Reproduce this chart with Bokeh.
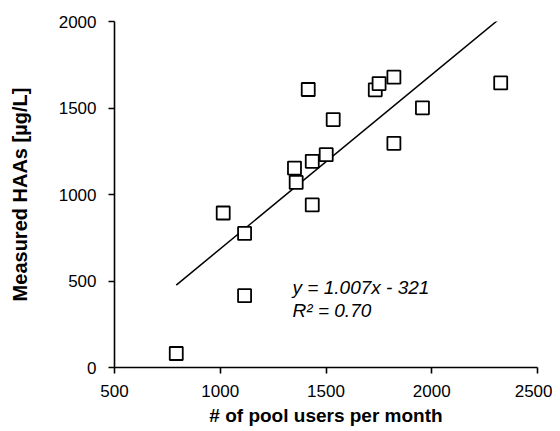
from bokeh.plotting import figure
from bokeh.models import Range1d, Label, FixedTicker, ColumnDataSource
from bokeh.embed import file_html
from bokeh.resources import INLINE

# ---- data ----
pool_users = [792, 1014, 1115, 1115, 1416, 1534, 1351, 1359, 1435, 1501,
              1435, 1733, 1751, 1821, 1956, 1821, 2326]
haas = [81, 893, 775, 415, 1607, 1433, 1153, 1070, 1192, 1230,
        940, 1605, 1641, 1678, 1501, 1296, 1645]
slope = 1.007
intercept = -321
r_squared = 0.70
x_ticks = [500, 1000, 1500, 2000, 2500]
y_ticks = [0, 500, 1000, 1500, 2000]
x_label = "# of pool users per month"
y_label = "Measured HAAs [µg/L]"
eq_text = "y = 1.007x - 321"
r2_text = "R² = 0.70"

FONT = "Liberation Sans"

p = figure(width=552, height=428, output_backend="svg", toolbar_location=None,
           x_range=Range1d(500, 2500), y_range=Range1d(0, 2000),
           min_border_left=114, min_border_right=15,
           min_border_top=21, min_border_bottom=61)
p.outline_line_color = None
p.grid.visible = False
p.background_fill_color = "white"
p.border_fill_color = "white"

for ax in (p.xaxis[0], p.yaxis[0]):
    ax.axis_line_color = "black"
    ax.axis_line_width = 1.6
    ax.major_tick_line_color = "black"
    ax.major_tick_line_width = 1.6
    ax.major_tick_in = 0
    ax.major_tick_out = 6
    ax.minor_tick_line_color = None
    ax.major_label_text_font = FONT
    ax.major_label_text_font_size = "17px"
    ax.major_label_text_color = "black"
    ax.axis_label_text_font = FONT
    ax.axis_label_text_font_style = "bold"
    ax.axis_label_text_color = "black"

p.xaxis.ticker = FixedTicker(ticks=x_ticks)
p.yaxis.ticker = FixedTicker(ticks=y_ticks)
p.xaxis.axis_label = x_label
p.yaxis.axis_label = y_label
p.xaxis.axis_label_text_font_size = "19px"
p.yaxis.axis_label_text_font_size = "20px"
p.xaxis.major_label_standoff = 11
p.yaxis.major_label_standoff = 12
p.xaxis.axis_label_standoff = 5
p.yaxis.axis_label_standoff = 25

# trend line over data x-range
x_line = [min(pool_users), max(pool_users)]
y_line = [slope * v + intercept for v in x_line]
p.line(x_line, y_line, line_color="black", line_width=1.5)

src = ColumnDataSource(dict(x=pool_users, y=haas))
p.scatter("x", "y", source=src, marker="square", size=13,
          fill_color="white", line_color="black", line_width=1.8)

p.add_layout(Label(x=1342, y=463, text=eq_text, text_font=FONT,
                   text_font_style="italic", text_font_size="19px",
                   text_color="black", text_baseline="alphabetic"))
p.add_layout(Label(x=1342, y=328, text=r2_text, text_font=FONT,
                   text_font_style="italic", text_font_size="19px",
                   text_color="black", text_baseline="alphabetic"))

open("out.html", "w").write(file_html(p, INLINE))
